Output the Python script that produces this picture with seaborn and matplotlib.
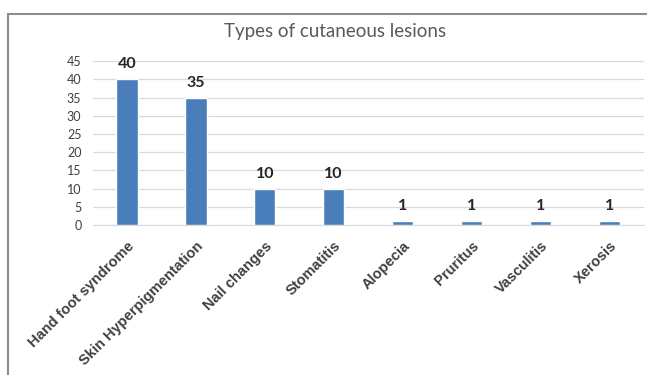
import pandas as pd
import matplotlib.pyplot as plt
import seaborn as sns
from matplotlib.patches import Rectangle

# Chart data
lesions = ['Hand foot syndrome', 'Skin Hyperpigmentation', 'Nail changes', 'Stomatitis',
           'Alopecia', 'Pruritus', 'Vasculitis', 'Xerosis']
counts = [40, 35, 10, 10, 1, 1, 1, 1]
y_ticks = [0, 5, 10, 15, 20, 25, 30, 35, 40, 45]

df = pd.DataFrame({'Lesion': lesions, 'Count': counts})

sns.set_style('white')
plt.rcParams['font.family'] = ['Liberation Sans', 'DejaVu Sans']

fig = plt.figure(figsize=(6.47, 3.75), dpi=100)
ax = fig.add_axes([0.143, 0.40, 0.852, 0.437])

sns.barplot(data=df, x='Lesion', y='Count', color='#4a7ebb', width=0.31, saturation=1, ax=ax, zorder=3)

# value labels above bars
for i, v in enumerate(counts):
    ax.text(i, v + 2.2, str(v), ha='center', va='bottom', fontsize=11.5,
            fontweight='bold', color='#262626', family=['Lato', 'DejaVu Sans'])

ax.set_ylim(0, 45)
ax.set_yticks(y_ticks)
ax.set_xlim(-0.5, len(lesions) - 0.5)
ax.yaxis.grid(True, color='#d9d9d9', linewidth=0.9, zorder=0)
ax.set_axisbelow(True)
for s in ['top', 'right', 'left']:
    ax.spines[s].set_visible(False)
ax.spines['bottom'].set_color('#d9d9d9')
ax.tick_params(axis='y', length=0, labelsize=9, labelcolor='#404040', pad=8)
for lbl in ax.get_yticklabels():
    lbl.set_family(['Lato', 'DejaVu Sans'])
ax.tick_params(axis='x', length=0, pad=10)
ax.set_xticks(range(len(lesions)))
ax.set_xticklabels(lesions, rotation=45, ha='right', rotation_mode='anchor',
                   fontsize=10.5, fontweight='bold', color='#404040')
ax.set_xlabel('')
ax.set_ylabel('')

fig.text(0.518, 0.915, 'Types of cutaneous lesions', ha='center', va='center',
         fontsize=13.5, color='#595959', family=['Lato', 'DejaVu Sans'])

# outer chart frame
fig.patches.append(Rectangle((8 / 647, -0.05), 1.0, (375 - 14) / 375 + 0.05,
                             transform=fig.transFigure, fill=False,
                             edgecolor='#8c8c8c', linewidth=1.5))

fig.savefig('out.png', dpi=100)
